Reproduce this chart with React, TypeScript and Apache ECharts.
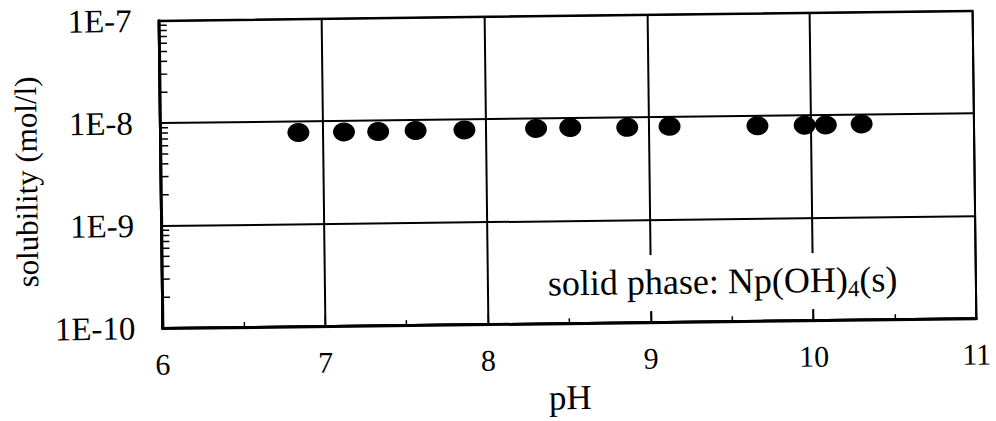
import { useEffect, useRef } from "react";
import * as echarts from "echarts";

// Np(OH)4(s) solubility measurements
const pHValues = [6.85, 7.13, 7.34, 7.57, 7.87, 8.31, 8.52, 8.87, 9.13, 9.67, 9.96, 10.09, 10.31];
const solubility = [7.8e-9, 7.8e-9, 7.8e-9, 7.9e-9, 7.9e-9, 8.0e-9, 8.1e-9, 8.0e-9, 8.1e-9, 8.0e-9, 8.0e-9, 8.0e-9, 8.1e-9];

// axis ranges
const pHMin = 6;
const pHMax = 11;
const solMin = 1e-10;
const solMax = 1e-7;

// log minor ticks: 2..9 within each decade
const decadeStarts = [1e-10, 1e-9, 1e-8];
const minorMultipliers = [2, 3, 4, 5, 6, 7, 8, 9];

const FONT = "Liberation Serif, Times New Roman, serif";

export default function App() {
  const ref = useRef<HTMLDivElement>(null);

  useEffect(() => {
    if (!ref.current) return;
    const chart = echarts.init(ref.current, undefined, { renderer: "svg" });

    const points = pHValues.map((x, i) => [x, solubility[i]]);
    const minorTicks: number[][] = [];
    decadeStarts.forEach((d) => minorMultipliers.forEach((m) => minorTicks.push([pHMin, d * m])));

    chart.setOption({
      animation: false,
      backgroundColor: "#fff",
      grid: {
        left: 161,
        right: 21,
        top: 15,
        bottom: 95,
        show: true,
        borderColor: "#000",
        borderWidth: 2,
        backgroundColor: "transparent",
      },
      xAxis: {
        type: "value",
        min: pHMin,
        max: pHMax,
        interval: 1,
        axisLine: { show: true, onZero: false, lineStyle: { color: "#000", width: 3 } },
        axisTick: { show: true, inside: true, length: 10, lineStyle: { color: "#000", width: 1.5 } },
        minorTick: { show: true, splitNumber: 2, length: 5, lineStyle: { color: "#000", width: 1.5 } },
        splitLine: { show: true, lineStyle: { color: "#000", width: 2 } },
        axisLabel: { fontFamily: FONT, fontSize: 30, color: "#000", margin: 21 },
        name: "pH",
        nameLocation: "middle",
        nameGap: 57,
        nameTextStyle: { fontFamily: FONT, fontSize: 35, color: "#000" },
      },
      yAxis: {
        type: "log",
        logBase: 10,
        min: solMin,
        max: solMax,
        axisLine: { show: true, lineStyle: { color: "#000", width: 3 } },
        axisTick: { show: false },
        splitLine: { show: true, lineStyle: { color: "#000", width: 2 } },
        axisLabel: {
          fontFamily: FONT,
          fontSize: 33,
          color: "#000",
          margin: 27,
          formatter: (v: number) => "1E" + Math.round(Math.log10(v)),
        },
        name: "solubility (mol/l)",
        nameLocation: "middle",
        nameRotate: 90,
        nameGap: 110,
        nameTextStyle: { fontFamily: FONT, fontSize: 31, color: "#000", padding: [0, 12, 0, 0] },
      },
      series: [
        {
          type: "custom",
          silent: true,
          clip: false,
          z: 3,
          data: minorTicks,
          renderItem: (_params: any, api: any) => {
            const p = api.coord([api.value(0), api.value(1)]);
            return {
              type: "line",
              shape: { x1: p[0], y1: p[1], x2: p[0] + 8, y2: p[1] },
              style: { stroke: "#000", lineWidth: 1.5 },
            };
          },
        },
        {
          type: "scatter",
          data: points,
          symbol: "circle",
          symbolSize: [22, 19],
          itemStyle: { color: "#000", opacity: 1 },
          z: 5,
        },
      ],
      graphic: [
        {
          type: "rect",
          z: 50,
          shape: { x: 530, y: 257, width: 432, height: 56 },
          style: { fill: "#fff" },
        },
        {
          type: "text",
          z: 51,
          x: 547,
          y: 284,
          style: {
            text: "{a|solid phase: Np(OH)}{s|4}{a|(s)}",
            verticalAlign: "middle",
            align: "left",
            rich: {
              a: { fontFamily: FONT, fontSize: 36, lineHeight: 36, fill: "#000" },
              s: {
                fontFamily: FONT,
                fontSize: 23,
                height: 18,
                lineHeight: 18,
                fill: "#000",
                verticalAlign: "bottom",
              },
            },
          },
        },
      ],
    });

    return () => chart.dispose();
  }, []);

  return (
    <div
      ref={ref}
      style={{
        position: "absolute",
        left: 0,
        top: 0,
        width: 996,
        height: 421,
        transform: "rotate(-0.7deg)",
        transformOrigin: "50% 50%",
      }}
    />
  );
}
